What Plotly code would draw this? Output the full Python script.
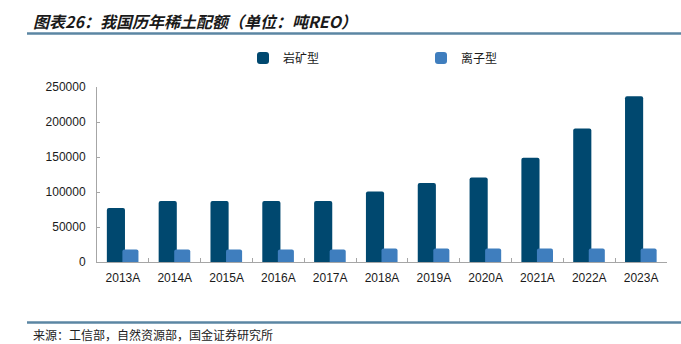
import plotly.graph_objects as go

# Annual rare earth mining quotas (tonnes REO)
years = ["2013A", "2014A", "2015A", "2016A", "2017A", "2018A",
         "2019A", "2020A", "2021A", "2022A", "2023A"]
rock_type = [77000, 87100, 87100, 87100, 87100, 100850,
             112850, 120850, 148850, 190850, 236850]
ion_type = [17900, 17900, 17900, 17900, 17900, 19150,
            19150, 19150, 19150, 19150, 19150]
series_names = ["岩矿型", "离子型"]
y_ticks = [0, 50000, 100000, 150000, 200000, 250000]

W, H = 681, 344
L, R, T, B = 97, 14, 87, 82
plot_w = W - L - R
plot_h = H - T - B


def px_x(x):
    return (x - L) / plot_w


def px_y(y):
    return (H - B - y) / plot_h


fig = go.Figure()
fig.add_trace(go.Bar(
    x=years, y=rock_type, name=series_names[0],
    marker=dict(color="#00486F", line=dict(width=0)),
    width=0.35, offset=-0.31,
))
fig.add_trace(go.Bar(
    x=years, y=ion_type, name=series_names[1],
    marker=dict(color="#3F7EBE", line=dict(width=0)),
    width=0.31, offset=-0.01,
))

axis_font = dict(family="Liberation Sans, Arial, sans-serif", size=12, color="#1a1a1a")

fig.update_layout(
    width=W, height=H,
    margin=dict(l=L, r=R, t=T, b=B, pad=0),
    paper_bgcolor="white", plot_bgcolor="white",
    barmode="overlay", barcornerradius=2,
    showlegend=True,
    legend=dict(
        orientation="h", x=px_x(243), y=px_y(58),
        xanchor="left", yanchor="middle",
        font=dict(family="Noto Sans CJK SC, sans-serif", size=12, color="#1a1a1a"),
        entrywidth=133, entrywidthmode="pixels",
        bgcolor="rgba(0,0,0,0)", borderwidth=0,
        tracegroupgap=0,
    ),
    xaxis=dict(
        type="category", showline=True, linecolor="#A6A6A6", linewidth=1,
        ticks="inside", ticklen=4, tickcolor="#A6A6A6", tickson="boundaries",
        tickfont=axis_font, showgrid=False, zeroline=False,
        ticklabelstandoff=5,
    ),
    yaxis=dict(
        range=[0, 250000], tickvals=y_ticks, tickformat="d",
        showline=True, linecolor="#A6A6A6", linewidth=1,
        ticks="inside", ticklen=3, tickcolor="#A6A6A6",
        tickfont=axis_font, showgrid=False, zeroline=False,
        ticklabelstandoff=8,
    ),
)

# Header and footer rules
rule_color = "#5B86A3"
fig.add_shape(type="line", xref="paper", yref="paper",
              x0=px_x(27), x1=px_x(W), y0=px_y(33.5), y1=px_y(33.5),
              line=dict(color=rule_color, width=2.5))
fig.add_shape(type="line", xref="paper", yref="paper",
              x0=px_x(27), x1=px_x(W), y0=px_y(322.5), y1=px_y(322.5),
              line=dict(color=rule_color, width=2.5))

fig.add_annotation(
    text="<b><i>图表26：我国历年稀土配额（单位：吨REO）</i></b>",
    xref="paper", yref="paper", x=px_x(31), y=px_y(21),
    xanchor="left", yanchor="middle", showarrow=False,
    font=dict(family="Noto Sans CJK SC, sans-serif", size=16, color="#1a1a1a"),
)
fig.add_annotation(
    text="来源：工信部，自然资源部，国金证券研究所",
    xref="paper", yref="paper", x=px_x(31), y=px_y(334),
    xanchor="left", yanchor="middle", showarrow=False,
    font=dict(family="Noto Sans CJK SC, sans-serif", size=12, color="#222222"),
)

fig.write_html("out.html")
